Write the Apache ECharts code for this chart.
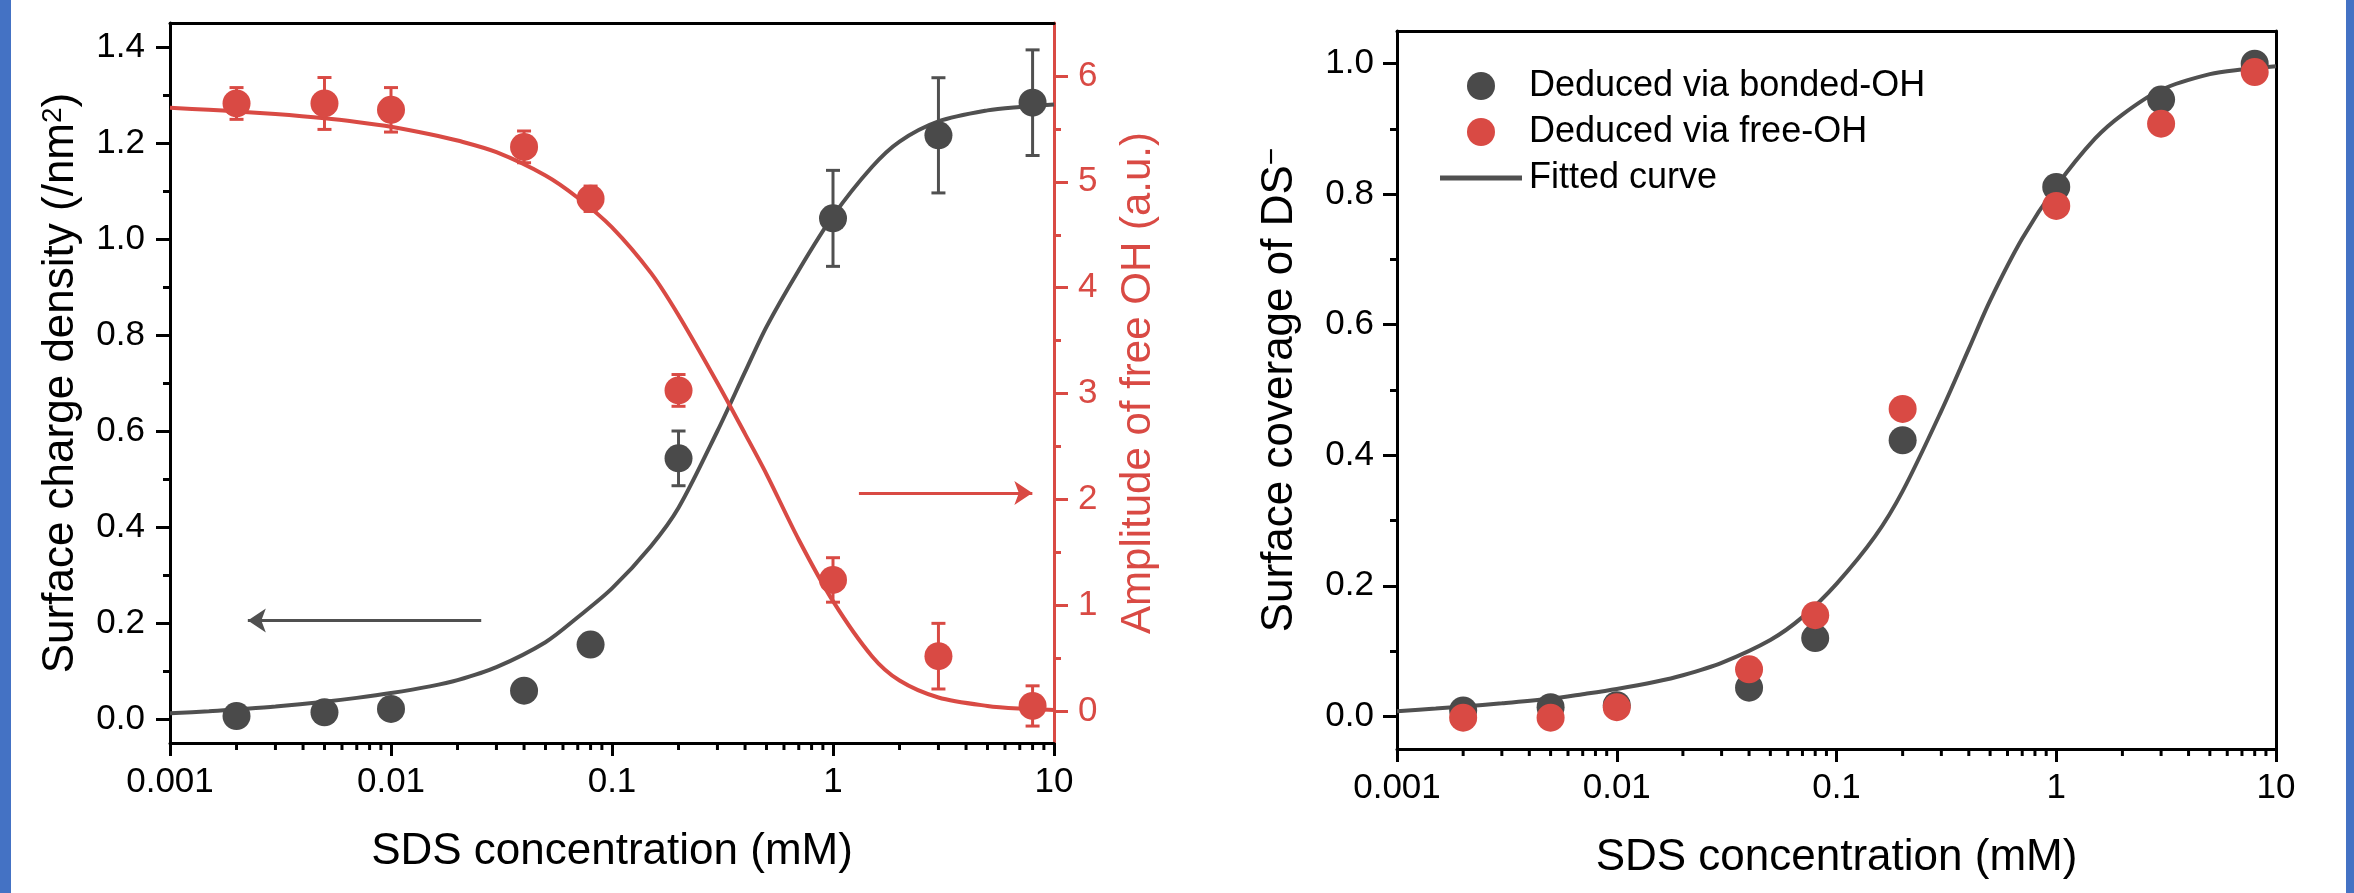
<!DOCTYPE html>
<html>
<head>
<meta charset="utf-8">
<script src="https://cdn.jsdelivr.net/npm/echarts@6/dist/echarts.min.js"></script>
<style>
  html, body { margin: 0; padding: 0; background: #fff; }
  #chart { position: absolute; left: 0; top: 0; width: 2354px; height: 893px; }
  .edge { position: absolute; top: 0; height: 893px; background: #4472c4; }
</style>
</head>
<body>
<div id="chart"></div>
<div class="edge" style="left:0;width:11px"></div>
<div class="edge" style="left:2346px;width:8px"></div>
<script>
// measured SDS concentrations (mM)
var conc = [0.002, 0.005, 0.01, 0.04, 0.08, 0.2, 1, 3, 8];

// left panel
var chargeDensity = [0.006, 0.014, 0.021, 0.059, 0.155, 0.543, 1.043, 1.216, 1.284];
var chargeErr = [0, 0, 0, 0, 0, 0.057, 0.1, 0.12, 0.11];
var freeOH = [5.74, 5.74, 5.68, 5.33, 4.84, 3.03, 1.24, 0.52, 0.05];
var freeOHErr = [0.15, 0.245, 0.21, 0.15, 0.12, 0.15, 0.21, 0.31, 0.19];

// fitted curves
var fitConc = [0.001, 0.0015, 0.002, 0.003, 0.005, 0.007, 0.01, 0.015, 0.02, 0.03, 0.05, 0.07,
               0.1, 0.15, 0.2, 0.3, 0.4, 0.5, 0.7, 1, 1.5, 2, 3, 5, 7, 10];
var chargeFit = [0.012, 0.016, 0.020, 0.026, 0.036, 0.044, 0.054, 0.068, 0.081, 0.108, 0.160, 0.212,
                 0.272, 0.36, 0.44, 0.600, 0.723, 0.817, 0.935, 1.048, 1.150, 1.203, 1.245, 1.268, 1.275, 1.280];
var freeOHFit = [5.70, 5.68, 5.665, 5.64, 5.60, 5.565, 5.52, 5.45, 5.39, 5.28, 5.06, 4.85,
                 4.57, 4.14, 3.74, 3.10, 2.62, 2.24, 1.62, 1.04, 0.52, 0.29, 0.13, 0.05, 0.025, 0.012];

// right panel
var coverageBonded = [0.009, 0.014, 0.017, 0.044, 0.12, 0.423, 0.811, 0.945, 1.0];
var coverageFree = [-0.002, -0.002, 0.014, 0.072, 0.155, 0.471, 0.782, 0.908, 0.987];
var coverageFit = [0.008, 0.012, 0.015, 0.020, 0.027, 0.034, 0.042, 0.053, 0.063, 0.082, 0.117, 0.152,
                   0.203, 0.276, 0.345, 0.468, 0.563, 0.637, 0.732, 0.812, 0.885, 0.922, 0.960, 0.984, 0.991, 0.996];

// arrows (start, end) in data units
var leftArrow = [[0.0256, 0.205], [0.00225, 0.205]];
var rightArrow = [[1.31, 2.06], [7.98, 2.06]];

// tick values
var minorConc = [0.002, 0.003, 0.004, 0.005, 0.006, 0.007, 0.008, 0.009,
                 0.02, 0.03, 0.04, 0.05, 0.06, 0.07, 0.08, 0.09,
                 0.2, 0.3, 0.4, 0.5, 0.6, 0.7, 0.8, 0.9,
                 2, 3, 4, 5, 6, 7, 8, 9];
var densityTicks = [0, 0.2, 0.4, 0.6, 0.8, 1.0, 1.2, 1.4];
var densityMinor = [0.1, 0.3, 0.5, 0.7, 0.9, 1.1, 1.3];
var ampTicks = [0, 1, 2, 3, 4, 5, 6];
var ampMinor = [0.5, 1.5, 2.5, 3.5, 4.5, 5.5];
var coverageTicks = [0, 0.2, 0.4, 0.6, 0.8, 1.0];
var coverageMinor = [0.1, 0.3, 0.5, 0.7, 0.9];

var FONT = '"Liberation Sans", Arial, Helvetica, sans-serif';
var RED = '#d94a44';
var GRAY = '#505050';
var DOT = '#4a4a4a';

function logLabel(v) { return String(parseFloat(v.toPrecision(3))); }
function oneDecimal(v) { return v.toFixed(1); }

function pairs(xs, ys) {
    return xs.map(function (x, i) { return [x, ys[i]]; });
}

function errorBars(color) {
    return function (params, api) {
        var x = api.value(0), y = api.value(1), e = api.value(2);
        if (!e) { return null; }
        var hi = api.coord([x, y + e]);
        var lo = api.coord([x, y - e]);
        var st = { stroke: color, lineWidth: 3 };
        return {
            type: 'group',
            children: [
                { type: 'line', shape: { x1: hi[0], y1: hi[1], x2: lo[0], y2: lo[1] }, style: st },
                { type: 'line', shape: { x1: hi[0] - 7, y1: hi[1], x2: hi[0] + 7, y2: hi[1] }, style: st },
                { type: 'line', shape: { x1: lo[0] - 7, y1: lo[1], x2: lo[0] + 7, y2: lo[1] }, style: st }
            ]
        };
    };
}

function minorTicks(params, api) {
    var p = api.coord([api.value(0), api.value(1)]);
    return {
        type: 'line',
        shape: { x1: p[0], y1: p[1], x2: p[0], y2: p[1] + 7 },
        style: { stroke: '#000', lineWidth: 3 }
    };
}

function xBottom(grid) {
    return {
        type: 'log', logBase: 10, gridIndex: grid, min: 0.001, max: 10, position: 'bottom',
        name: 'SDS concentration (mM)', nameLocation: 'middle', nameGap: 87,
        nameTextStyle: { fontFamily: FONT, fontSize: 44, color: '#000' },
        axisLine: { onZero: false, lineStyle: { color: '#000', width: 3 } },
        axisTick: { inside: false, length: 13, lineStyle: { color: '#000', width: 3 } },
        axisLabel: { fontFamily: FONT, fontSize: 35, color: '#000', margin: 22, formatter: logLabel },
        splitLine: { show: false }
    };
}

function xTop(grid) {
    return {
        type: 'log', logBase: 10, gridIndex: grid, min: 0.001, max: 10, position: 'top',
        axisLine: { onZero: false, lineStyle: { color: '#000', width: 3 } },
        axisTick: { show: false }, axisLabel: { show: false }, splitLine: { show: false }
    };
}

function yAxis(grid, pos, min, max, ticks, color, len, withLabels) {
    return {
        type: 'value', gridIndex: grid, position: pos, min: min, max: max,
        axisLine: { show: withLabels, onZero: false, lineStyle: { color: color, width: 3 } },
        axisTick: { inside: false, length: len, customValues: ticks, lineStyle: { color: color, width: 3 } },
        axisLabel: {
            show: withLabels, customValues: ticks, fontFamily: FONT, fontSize: 35, color: color, margin: 24
        },
        splitLine: { show: false }
    };
}

var yDensity = yAxis(0, 'left', -0.05, 1.45, densityTicks, '#000', 14, true);
yDensity.axisLabel.formatter = oneDecimal;
yDensity.axisLabel.margin = 25;
yDensity.name = 'Surface charge density (/nm{sup|2})';
yDensity.nameLocation = 'middle';
yDensity.nameRotate = 90;
yDensity.nameGap = 87;
yDensity.nameTextStyle = { fontFamily: FONT, fontSize: 44, color: '#000',
    rich: { sup: { fontFamily: FONT, fontSize: 28, verticalAlign: 'top', color: '#000' } } };

var yAmp = yAxis(0, 'right', -0.3, 6.5, ampTicks, RED, 14, true);
yAmp.name = 'Amplitude of free OH (a.u.)';
yAmp.nameLocation = 'middle';
yAmp.nameRotate = 90;
yAmp.nameGap = 63;
yAmp.nameTextStyle = { fontFamily: FONT, fontSize: 42, color: RED };

var yCoverage = yAxis(1, 'left', -0.05, 1.05, coverageTicks, '#000', 14, true);
yCoverage.axisLabel.formatter = oneDecimal;
yCoverage.axisLabel.margin = 23;
yCoverage.name = 'Surface coverage of DS{sup|\u2212}';
yCoverage.nameLocation = 'middle';
yCoverage.nameRotate = 90;
yCoverage.nameGap = 95;
yCoverage.nameTextStyle = { fontFamily: FONT, fontSize: 44, color: '#000',
    rich: { sup: { fontFamily: FONT, fontSize: 30, verticalAlign: 'top', color: '#000' } } };

var yCoverageRight = {
    type: 'value', gridIndex: 1, position: 'right', min: -0.05, max: 1.05,
    axisLine: { onZero: false, lineStyle: { color: '#000', width: 3 } },
    axisTick: { show: false }, axisLabel: { show: false }, splitLine: { show: false }
};

var chart = echarts.init(document.getElementById('chart'));

var option = {
    backgroundColor: '#fff',
    animation: false,
    grid: [
        { left: 170, top: 23, width: 884, height: 720 },
        { left: 1397, top: 31, width: 879, height: 718 }
    ],
    legend: {
        left: 1435, top: 63, orient: 'vertical',
        itemWidth: 82, itemHeight: 28, itemGap: 10,
        textStyle: { fontFamily: FONT, fontSize: 36, color: '#000', padding: [0, 0, 0, 2] },
        data: [
            { name: 'Deduced via bonded-OH', icon: 'circle' },
            { name: 'Deduced via free-OH', icon: 'circle' },
            { name: 'Fitted curve', icon: 'path://M0 0H82V5H0Z' }
        ]
    },
    xAxis: [xBottom(0), xTop(0), xBottom(1), xTop(1)],
    yAxis: [
        yDensity,
        yAmp,
        yAxis(0, 'left', -0.05, 1.45, densityMinor, '#000', 7, false),
        yAxis(0, 'right', -0.3, 6.5, ampMinor, RED, 7, false),
        yCoverage,
        yCoverageRight,
        yAxis(1, 'left', -0.05, 1.05, coverageMinor, '#000', 7, false)
    ],
    series: [
        {
            type: 'custom', xAxisIndex: 0, yAxisIndex: 0, silent: true, z: 2,
            renderItem: errorBars(GRAY),
            data: conc.map(function (c, i) { return [c, chargeDensity[i], chargeErr[i]]; })
        },
        {
            type: 'custom', xAxisIndex: 0, yAxisIndex: 1, silent: true, z: 2,
            renderItem: errorBars(RED),
            data: conc.map(function (c, i) { return [c, freeOH[i], freeOHErr[i]]; })
        },
        {
            name: 'charge fit', type: 'line', xAxisIndex: 0, yAxisIndex: 0, z: 3,
            smooth: 0.3, symbol: 'none',
            lineStyle: { color: GRAY, width: 4 }, itemStyle: { color: GRAY },
            data: pairs(fitConc, chargeFit)
        },
        {
            name: 'free OH fit', type: 'line', xAxisIndex: 0, yAxisIndex: 1, z: 4,
            smooth: 0.3, symbol: 'none',
            lineStyle: { color: RED, width: 4 }, itemStyle: { color: RED },
            data: pairs(fitConc, freeOHFit)
        },
        {
            name: 'charge', type: 'scatter', xAxisIndex: 0, yAxisIndex: 0, z: 5,
            symbolSize: 28, itemStyle: { color: DOT, opacity: 1 },
            data: pairs(conc, chargeDensity),
            markLine: {
                silent: true, symbol: ['none', 'arrow'], symbolSize: 18,
                label: { show: false },
                lineStyle: { color: GRAY, width: 3, type: 'solid' },
                data: [[{ coord: leftArrow[0] }, { coord: leftArrow[1] }]]
            }
        },
        {
            name: 'free OH', type: 'scatter', xAxisIndex: 0, yAxisIndex: 1, z: 6,
            symbolSize: 28, itemStyle: { color: RED, opacity: 1 },
            data: pairs(conc, freeOH),
            markLine: {
                silent: true, symbol: ['none', 'arrow'], symbolSize: 18,
                label: { show: false },
                lineStyle: { color: RED, width: 3, type: 'solid' },
                data: [[{ coord: rightArrow[0] }, { coord: rightArrow[1] }]]
            }
        },
        {
            type: 'custom', xAxisIndex: 0, yAxisIndex: 0, silent: true, clip: false,
            renderItem: minorTicks,
            data: minorConc.map(function (c) { return [c, -0.05]; })
        },
        {
            name: 'Fitted curve', type: 'line', xAxisIndex: 2, yAxisIndex: 4, z: 3,
            smooth: 0.3, symbol: 'none',
            lineStyle: { color: GRAY, width: 4 }, itemStyle: { color: GRAY },
            data: pairs(fitConc, coverageFit)
        },
        {
            name: 'Deduced via bonded-OH', type: 'scatter', xAxisIndex: 2, yAxisIndex: 4, z: 5,
            symbolSize: 28, itemStyle: { color: DOT, opacity: 1 },
            data: pairs(conc, coverageBonded)
        },
        {
            name: 'Deduced via free-OH', type: 'scatter', xAxisIndex: 2, yAxisIndex: 4, z: 6,
            symbolSize: 28, itemStyle: { color: RED, opacity: 1 },
            data: pairs(conc, coverageFree)
        },
        {
            type: 'custom', xAxisIndex: 2, yAxisIndex: 4, silent: true, clip: false,
            renderItem: minorTicks,
            data: minorConc.map(function (c) { return [c, -0.05]; })
        }
    ]
};

chart.setOption(option);
</script>
</body>
</html>
